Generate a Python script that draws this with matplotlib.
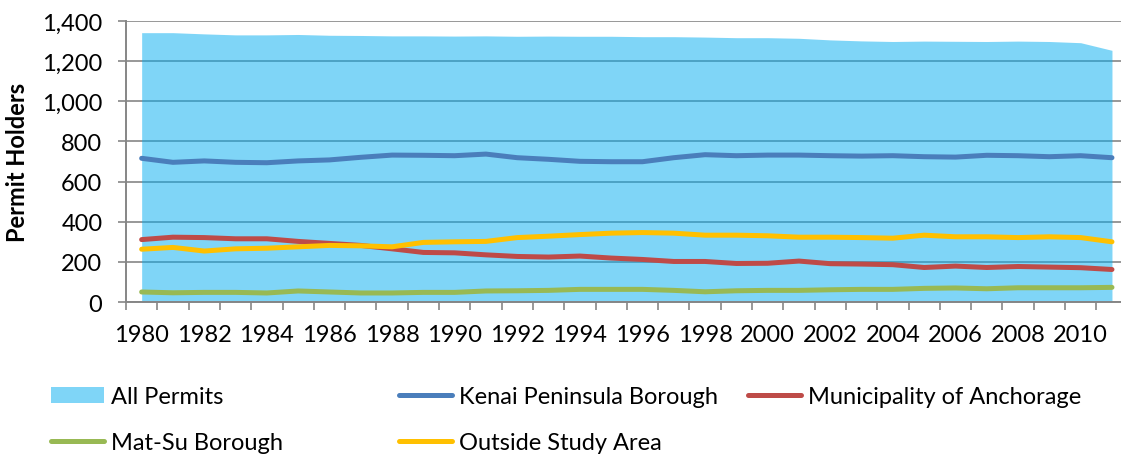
import numpy as np
import matplotlib
matplotlib.use("Agg")
import matplotlib.pyplot as plt
from matplotlib.lines import Line2D
from matplotlib.patches import Patch

plt.rcParams['font.family'] = ['Lato', 'DejaVu Sans']

years = list(range(1980, 2012))

all_permits = [1342, 1342, 1336, 1331, 1331, 1333, 1329, 1328, 1326, 1326,
               1325, 1326, 1324, 1325, 1324, 1324, 1322, 1322, 1320, 1317,
               1317, 1314, 1306, 1301, 1298, 1300, 1299, 1298, 1300, 1298,
               1292, 1254]
kenai = [716, 696, 703, 696, 694, 703, 708, 721, 732, 731,
         729, 737, 719, 711, 701, 699, 699, 719, 734, 729,
         732, 732, 729, 727, 729, 724, 722, 731, 729, 724,
         729, 719]
anchorage = [311, 323, 321, 315, 315, 302, 292, 282, 265, 247,
             245, 235, 227, 224, 229, 219, 212, 202, 202, 192,
             193, 204, 191, 189, 186, 172, 179, 172, 177, 174,
             171, 162]
matsu = [50, 46, 48, 48, 45, 55, 50, 45, 45, 48,
         48, 55, 56, 58, 63, 63, 63, 58, 51, 56,
         58, 58, 61, 63, 63, 68, 70, 66, 71, 71,
         71, 73]
outside = [263, 272, 254, 265, 268, 275, 282, 280, 275, 297,
           300, 302, 321, 328, 336, 343, 346, 343, 333, 333,
           330, 323, 323, 321, 318, 333, 325, 325, 321, 325,
           321, 300]

year_labels = [str(y) for y in range(1980, 2011, 2)]

C_AREA = '#01ADF1'
C_KENAI = '#4A7EBB'
C_ANCH = '#BE4B48'
C_MATSU = '#98B954'
C_OUT = '#FFC000'
C_AXIS = '#868686'

fig = plt.figure(figsize=(11.21, 4.56), dpi=100)
ax = fig.add_axes([0.1124, 0.3355, 0.8935, 0.6162])

ax.fill_between(years, all_permits, color=C_AREA, alpha=0.5, linewidth=0, zorder=1)
lw = 3.6
for vals, col in [(kenai, C_KENAI), (anchorage, C_ANCH), (matsu, C_MATSU), (outside, C_OUT)]:
    ax.plot(years, vals, color=col, lw=lw, solid_capstyle='round',
            solid_joinstyle='round', zorder=3)

ax.set_xlim(1979.5, 2011.5)
ax.set_ylim(0, 1400)
ax.set_yticks(range(0, 1401, 200))
ax.set_yticklabels([f'{v:,}' for v in range(0, 1401, 200)])
ax.set_xticks(range(1980, 2011, 2))
ax.set_xticklabels(year_labels)
ax.set_xticks(np.arange(1979.5, 2012, 1), minor=True)

ax.set_axisbelow(True)
ax.yaxis.grid(True, color=C_AXIS, lw=1.2)
for s in ['top', 'right']:
    ax.spines[s].set_visible(False)
for s in ['left', 'bottom']:
    ax.spines[s].set_color(C_AXIS)
    ax.spines[s].set_linewidth(1.4)

ax.tick_params(axis='y', direction='out', length=6, width=1.2, color=C_AXIS,
               labelsize=17, pad=11, labelcolor='black')
ax.tick_params(axis='x', which='major', length=0, labelsize=17, pad=16)
ax.tick_params(axis='x', which='minor', direction='out', length=6, width=1.2,
               color=C_AXIS)

ax.set_ylabel('Permit Holders', fontsize=17, fontweight='bold', va='center')
ax.yaxis.set_label_coords(-0.1086, 0.5)

# legend laid out as three fixed-width columns
h_all = Patch(facecolor=C_AREA, alpha=0.5, edgecolor='none')
h_kenai = Line2D([], [], color=C_KENAI, lw=lw, solid_capstyle='round')
h_anch = Line2D([], [], color=C_ANCH, lw=lw, solid_capstyle='round')
h_matsu = Line2D([], [], color=C_MATSU, lw=lw, solid_capstyle='round')
h_out = Line2D([], [], color=C_OUT, lw=lw, solid_capstyle='round')

columns = [
    (51, [h_all, h_matsu], ['All Permits', 'Mat-Su Borough']),
    (399, [h_kenai, h_out], ['Kenai Peninsula Borough', 'Outside Study Area']),
    (748, [h_anch], ['Municipality of Anchorage']),
]
for xpix, handles, labels in columns:
    fig.legend(handles, labels, loc='upper left',
               bbox_to_anchor=(xpix / 1121, (456 - 387) / 456),
               frameon=False, fontsize=17, handlelength=2.25, handleheight=0.65,
               handletextpad=0.3, labelspacing=1.05, borderpad=0,
               borderaxespad=0)

fig.savefig('out.png', dpi=100)
